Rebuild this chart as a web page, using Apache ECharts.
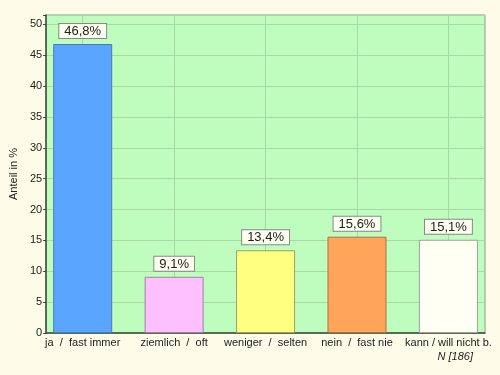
<!DOCTYPE html>
<html>
<head>
<meta charset="utf-8">
<script src="https://cdn.jsdelivr.net/npm/echarts@6/dist/echarts.min.js"></script>
<style>
    html, body { margin: 0; padding: 0; background: #fefce8; }
    #chart { width: 500px; height: 375px; }
</style>
</head>
<body>
<div id="chart"></div>
<script>
// data
const categories = ['ja  /  fast immer', 'ziemlich  /  oft', 'weniger  /  selten', 'nein  /  fast nie', 'kann / will nicht b.']
const values = [46.8, 9.1, 13.4, 15.6, 15.1]
const barColors = ['#5aa5ff', '#ffc0ff', '#ffff80', '#ffa55a', '#fffff4']
const barBorders = ['#4a7ab0', '#a080a0', '#a0a060', '#b07040', '#a0a0a0']
const yTicks = [0, 5, 10, 15, 20, 25, 30, 35, 40, 45, 50]
const sampleNote = 'N [186]'

const chartDom = document.getElementById('chart')
let myChart = echarts.init(chartDom)

// 數值格式 46.8 -> 46,8%
function fmtPct(v) {
    return v.toFixed(1).replace('.', ',') + '%'
}

let barData = values.map((v, i) => ({
    value: [i, v],
    itemStyle: { color: barColors[i], borderColor: barBorders[i], borderWidth: 1 },
}))

let option = {
    backgroundColor: '#fefce8',
    animation: false,
    textStyle: { fontFamily: 'Liberation Sans, Arial, sans-serif' },
    title: {
        text: sampleNote,
        right: 22,
        top: 346,
        textStyle: { fontSize: 11, fontStyle: 'italic', fontWeight: 'normal', color: '#222' },
    },
    grid: {
        left: 42,
        right: 15,
        top: 15,
        bottom: 42,
        show: true,
        backgroundColor: '#bffdbf',
        borderColor: '#8a9a8a',
        borderWidth: 1,
    },
    xAxis: {
        type: 'value',
        min: -0.4,
        max: 4.4,
        axisLine: { show: true, onZero: false, lineStyle: { color: '#3a4a3a', width: 1.5 } },
        axisTick: { show: false },
        splitLine: { show: false },
        axisLabel: {
            customValues: [0, 1, 2, 3, 4],
            formatter: (v) => categories[Math.round(v)] || '',
            fontSize: 11,
            color: '#222',
            margin: 4,
        },
    },
    yAxis: {
        type: 'value',
        min: 0,
        max: 51.5,
        interval: 5,
        name: 'Anteil in %',
        nameLocation: 'middle',
        nameGap: 19,
        nameTextStyle: { fontSize: 11, color: '#222' },
        axisLine: { show: true, onZero: false, lineStyle: { color: '#3a4a3a', width: 1.5 } },
        axisTick: { show: true, length: 3, lineStyle: { color: '#3a4a3a' } },
        axisLabel: {
            fontSize: 11,
            color: '#222',
            margin: 4,
            formatter: (v) => (yTicks.includes(v) ? String(v) : ''),
        },
        splitLine: { show: true, lineStyle: { color: '#a6d9a6', width: 1 } },
    },
    series: [
        {
            // 垂直格線
            type: 'line',
            data: [],
            z: 1,
            silent: true,
            markLine: {
                z: 1,
                symbol: 'none',
                silent: true,
                label: { show: false },
                emphasis: { disabled: true },
                lineStyle: { color: '#a6d9a6', type: 'solid', width: 1 },
                data: [0, 1, 2, 3, 4].map((x) => ({ xAxis: x })),
            },
        },
        {
            type: 'bar',
            z: 3,
            barWidth: 59,
            data: barData,
            label: {
                show: true,
                position: 'top',
                distance: 6,
                formatter: (p) => fmtPct(p.value[1]),
                fontSize: 13,
                color: '#222',
                backgroundColor: '#fdfdf0',
                borderColor: '#888',
                borderWidth: 1,
                padding: [1, 5, 0, 5],
            },
        },
    ],
}

myChart.setOption(option)
</script>
</body>
</html>
